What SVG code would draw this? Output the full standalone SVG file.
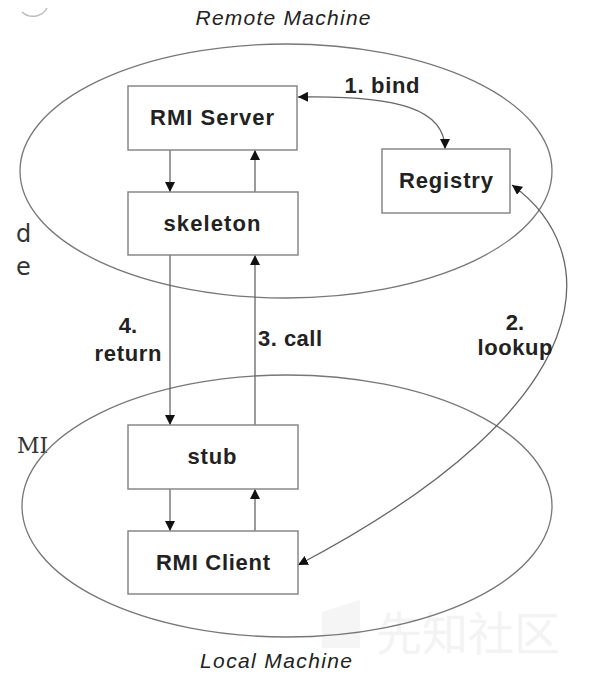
<svg xmlns="http://www.w3.org/2000/svg" width="597" height="682" viewBox="0 0 597 682">
<style>
.box{fill:#fff;stroke:#888;stroke-width:1.5}
.ell{fill:none;stroke:#777;stroke-width:1.3}
.lbl{font-family:"Liberation Sans",Arial,sans-serif;font-weight:bold;font-size:22px;fill:#222;text-anchor:middle}
.ttl{font-family:"Liberation Sans",Arial,sans-serif;font-style:italic;font-size:21px;fill:#222;text-anchor:middle}
.frag{font-family:"DejaVu Sans",sans-serif;font-size:24px;fill:#333}
.con{fill:none;stroke:#666;stroke-width:1.3}
</style>
<defs>
<marker id="ah" viewBox="0 0 10 10" refX="10" refY="5" markerWidth="10" markerHeight="10" markerUnits="userSpaceOnUse" orient="auto-start-reverse">
<path d="M0,0 L10,5 L0,10 z" fill="#111"/>
</marker>
</defs>
<rect width="597" height="682" fill="#fff"/>
<path d="M22,12 A16,16 0 0 0 47,8" fill="none" stroke="#bbb" stroke-width="1.5"/>
<text x="16" y="242" class="frag">d</text>
<text x="16" y="275" class="frag">e</text>
<text x="17" y="453" class="frag" style="font-family:'DejaVu Serif',serif;font-size:22px">MI</text>
<text x="468" y="650" font-family="'Noto Sans CJK SC',sans-serif" font-size="46" fill="#f3f3f3" text-anchor="middle">先知社区</text>
<path d="M322,612 L360,600 L360,648 L322,648 z" fill="#f5f5f5"/>
<g id="remote-machine">
<ellipse class="ell" cx="286" cy="171" rx="266" ry="127"/>
<text x="283" y="25" class="ttl" textLength="175">Remote Machine</text>
</g>
<g id="local-machine">
<ellipse class="ell" cx="287" cy="506" rx="265" ry="131"/>
<text x="276" y="668" class="ttl" textLength="152">Local Machine</text>
</g>
<g id="connectors">
<line class="con" x1="170" y1="150" x2="170" y2="192" marker-end="url(#ah)"/>
<line class="con" x1="255" y1="192" x2="255" y2="150" marker-end="url(#ah)"/>
<line class="con" x1="170" y1="255" x2="170" y2="425" marker-end="url(#ah)"/>
<line class="con" x1="255" y1="425" x2="255" y2="255" marker-end="url(#ah)"/>
<line class="con" x1="170" y1="489" x2="170" y2="531" marker-end="url(#ah)"/>
<line class="con" x1="255" y1="531" x2="255" y2="489" marker-end="url(#ah)"/>
<path class="con" d="M298,97 C400,95 445,110 445,149" marker-start="url(#ah)" marker-end="url(#ah)"/>
<path class="con" d="M298,565 C612,400 602,250 512,185" marker-start="url(#ah)" marker-end="url(#ah)"/>
<text x="382" y="93" class="lbl" textLength="75">1. bind</text>
<text x="515" y="330" class="lbl">2.</text>
<text x="515" y="355" class="lbl" textLength="75">lookup</text>
<text x="290" y="346" class="lbl" textLength="64">3. call</text>
<text x="128" y="333" class="lbl">4.</text>
<text x="128" y="361" class="lbl" textLength="67">return</text>
</g>
<g id="rmi-server">
<rect class="box" x="128" y="86" width="169" height="64"/>
<text x="212" y="125" class="lbl" textLength="124">RMI Server</text>
</g>
<g id="skeleton">
<rect class="box" x="128" y="192" width="170" height="63"/>
<text x="212" y="231" class="lbl" textLength="97">skeleton</text>
</g>
<g id="registry">
<rect class="box" x="382" y="149" width="128" height="64"/>
<text x="446" y="188" class="lbl" textLength="94">Registry</text>
</g>
<g id="stub">
<rect class="box" x="128" y="425" width="170" height="64"/>
<text x="212" y="464" class="lbl" textLength="49">stub</text>
</g>
<g id="rmi-client">
<rect class="box" x="128" y="531" width="170" height="63"/>
<text x="213" y="570" class="lbl" textLength="114">RMI Client</text>
</g>
</svg>
